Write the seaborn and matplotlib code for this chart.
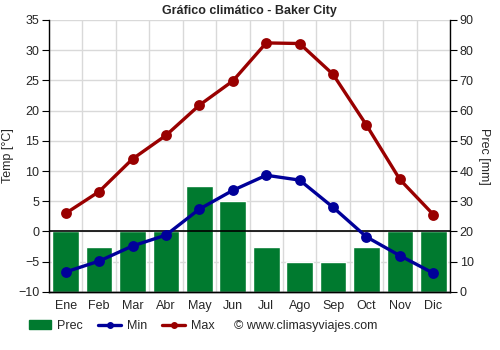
import matplotlib
matplotlib.use("Agg")
import matplotlib.pyplot as plt
from matplotlib.patches import Patch
from matplotlib.lines import Line2D
from matplotlib.ticker import MultipleLocator, FixedLocator
import seaborn as sns
import pandas as pd

months = ["Ene", "Feb", "Mar", "Abr", "May", "Jun", "Jul", "Ago", "Sep", "Oct", "Nov", "Dic"]
prec = [20, 15, 20, 20, 35, 30, 15, 10, 10, 15, 20, 20]
tmin = [-6.7, -4.9, -2.4, -0.6, 3.7, 6.8, 9.3, 8.5, 4.0, -0.9, -4.0, -6.9]
tmax = [3.0, 6.6, 12.0, 15.9, 20.9, 24.9, 31.2, 31.1, 26.0, 17.6, 8.6, 2.8]

df = pd.DataFrame({"mes": months, "prec": prec, "tmin": tmin, "tmax": tmax})

sns.set_style("white")
plt.rcParams["font.family"] = ["Liberation Sans", "DejaVu Sans"]
plt.rcParams["font.size"] = 9

GREEN = "#007a2f"
RED = "#990000"
BLUE = "#000099"
GRID = "#d9d9d9"

fig = plt.figure(figsize=(5, 3.5), dpi=100)
ax = fig.add_axes([0.098, 0.166, 0.802, 0.777])
ax2 = ax.twinx()

# precipitation bars on the right axis, behind the temperature lines
sns.barplot(data=df, x="mes", y="prec", color=GREEN, saturation=1, width=0.8,
            ax=ax2, zorder=2)
ax2.set_ylim(0, 90)
ax2.yaxis.set_major_locator(MultipleLocator(10))
ax2.set_ylabel("Prec [mm]", rotation=270, labelpad=12)

# grid lives on the bar axis so the bars cover it
ax2.xaxis.set_visible(True)
ax2.set_axisbelow(True)
ax2.xaxis.set_minor_locator(FixedLocator([i - 0.5 for i in range(13)]))
ax2.grid(axis="y", color=GRID, lw=1, zorder=0)
ax2.grid(axis="x", which="minor", color=GRID, lw=1, zorder=0)
ax2.tick_params(axis="x", which="both", length=0, labelbottom=False)

ax.set_zorder(ax2.get_zorder() + 1)
ax.patch.set_visible(False)

sns.pointplot(data=df, x="mes", y="tmax", color=RED, markers="o", markersize=6,
              linewidth=2.4, ax=ax)
sns.pointplot(data=df, x="mes", y="tmin", color=BLUE, markers="o", markersize=6,
              linewidth=2.4, ax=ax)
ax.axhline(0, color="black", lw=1.2, zorder=1)

ax.set_ylim(-10, 35)
ax.yaxis.set_major_locator(MultipleLocator(5))
ax.set_xlim(-0.5, 11.5)
ax.set_ylabel("Temp [°C]", labelpad=3)
ax.set_xlabel("")
ax2.set_xlabel("")
ax.set_title("Gráfico climático - Baker City", fontsize=9, fontweight="bold", pad=4)

ax.xaxis.set_minor_locator(FixedLocator([i - 0.5 for i in range(13)]))
ax.tick_params(axis="x", which="major", length=0, pad=6)
ax.tick_params(axis="x", which="minor", length=5, color="black", direction="out")
ax.tick_params(axis="y", length=5, color="black", direction="out", pad=2)
ax2.tick_params(axis="y", length=5, color="black", direction="out", pad=2)

for a in (ax, ax2):
    a.spines["top"].set_visible(False)
    for s in ("left", "right", "bottom"):
        a.spines[s].set_color("black")
        a.spines[s].set_linewidth(1)
ax.spines["right"].set_visible(False)
ax2.spines["left"].set_visible(False)

handles = [
    Patch(facecolor=GREEN, edgecolor=GREEN, label="Prec"),
    Line2D([], [], color=BLUE, lw=2.4, marker="o", markersize=4, label="Min"),
    Line2D([], [], color=RED, lw=2.4, marker="o", markersize=4, label="Max"),
]
fig.legend(handles=handles, loc="center left", bbox_to_anchor=(0.035, 0.068),
           ncol=3, frameon=False, handlelength=1.8, columnspacing=1.2,
           handletextpad=0.5, fontsize=9)
fig.text(0.468, 0.068, "© www.climasyviajes.com", ha="left", va="center", fontsize=9)

fig.savefig("out.png", dpi=100)
